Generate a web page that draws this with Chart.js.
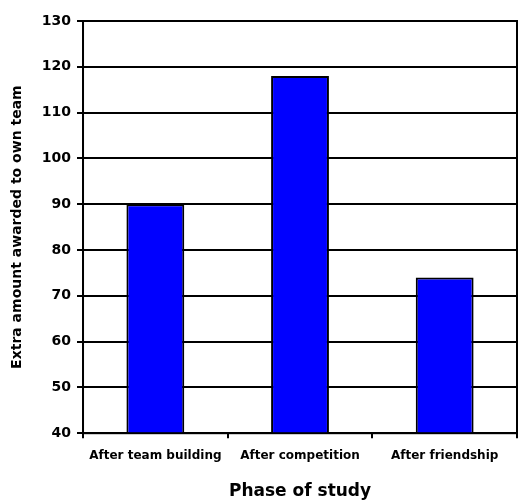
<!DOCTYPE html>
<html>
<head>
<meta charset="utf-8">
<script src="https://cdn.jsdelivr.net/npm/chart.js@4"></script>
<style>
  body { margin: 0; background: #fff; }
</style>
</head>
<body>
<canvas id="barChart" width="521" height="503"></canvas>
<script>
// Chart data
const categories = ['After team building', 'After competition', 'After friendship'];
const amounts = [90, 118, 74];
const yMin = 40;
const yMax = 130;
const yStep = 10;

// Draws the box round the plot area
const frameBox = {
    id: 'frameBox',
    afterDraw(chart) {
        const a = chart.chartArea;
        const ctx = chart.ctx;
        ctx.save();
        ctx.strokeStyle = '#000';
        ctx.lineWidth = 2;
        ctx.strokeRect(a.left, a.top, a.right - a.left, a.bottom - a.top);
        ctx.restore();
    }
};

const ctx = document.getElementById('barChart').getContext('2d');
new Chart(ctx, {
    type: 'bar',
    data: {
        labels: categories,
        datasets: [{
            data: amounts,
            backgroundColor: '#0000ff',
            borderColor: '#000',
            borderWidth: 2,
            barPercentage: 0.4,
            categoryPercentage: 1
        }]
    },
    options: {
        responsive: false,
        animation: false,
        layout: {
            padding: { left: 9, right: 4, top: 21, bottom: 1 }
        },
        plugins: {
            legend: { display: false },
            tooltip: { enabled: false }
        },
        scales: {
            x: {
                grid: {
                    offset: true,
                    drawOnChartArea: false,
                    color: '#000',
                    lineWidth: 2,
                    tickLength: 5
                },
                border: { color: '#000', width: 2 },
                ticks: {
                    color: '#000',
                    maxRotation: 0,
                    padding: 10,
                    font: { family: 'DejaVu Sans', weight: 'bold', size: 12 }
                },
                title: {
                    display: true,
                    text: 'Phase of study',
                    color: '#000',
                    padding: { top: 9, bottom: 0 },
                    font: { family: 'DejaVu Sans', weight: 'bold', size: 17 }
                }
            },
            y: {
                min: yMin,
                max: yMax,
                grid: {
                    color: '#000',
                    lineWidth: 2,
                    tickLength: 6
                },
                border: { color: '#000', width: 2 },
                ticks: {
                    stepSize: yStep,
                    color: '#000',
                    padding: 6,
                    font: { family: 'DejaVu Sans', weight: 'bold', size: 14 }
                },
                title: {
                    display: true,
                    text: 'Extra amount awarded to own team',
                    color: '#000',
                    padding: { top: 0, bottom: 10 },
                    font: { family: 'DejaVu Sans', weight: 'bold', size: 14 }
                }
            }
        }
    },
    plugins: [frameBox]
});
</script>
</body>
</html>
